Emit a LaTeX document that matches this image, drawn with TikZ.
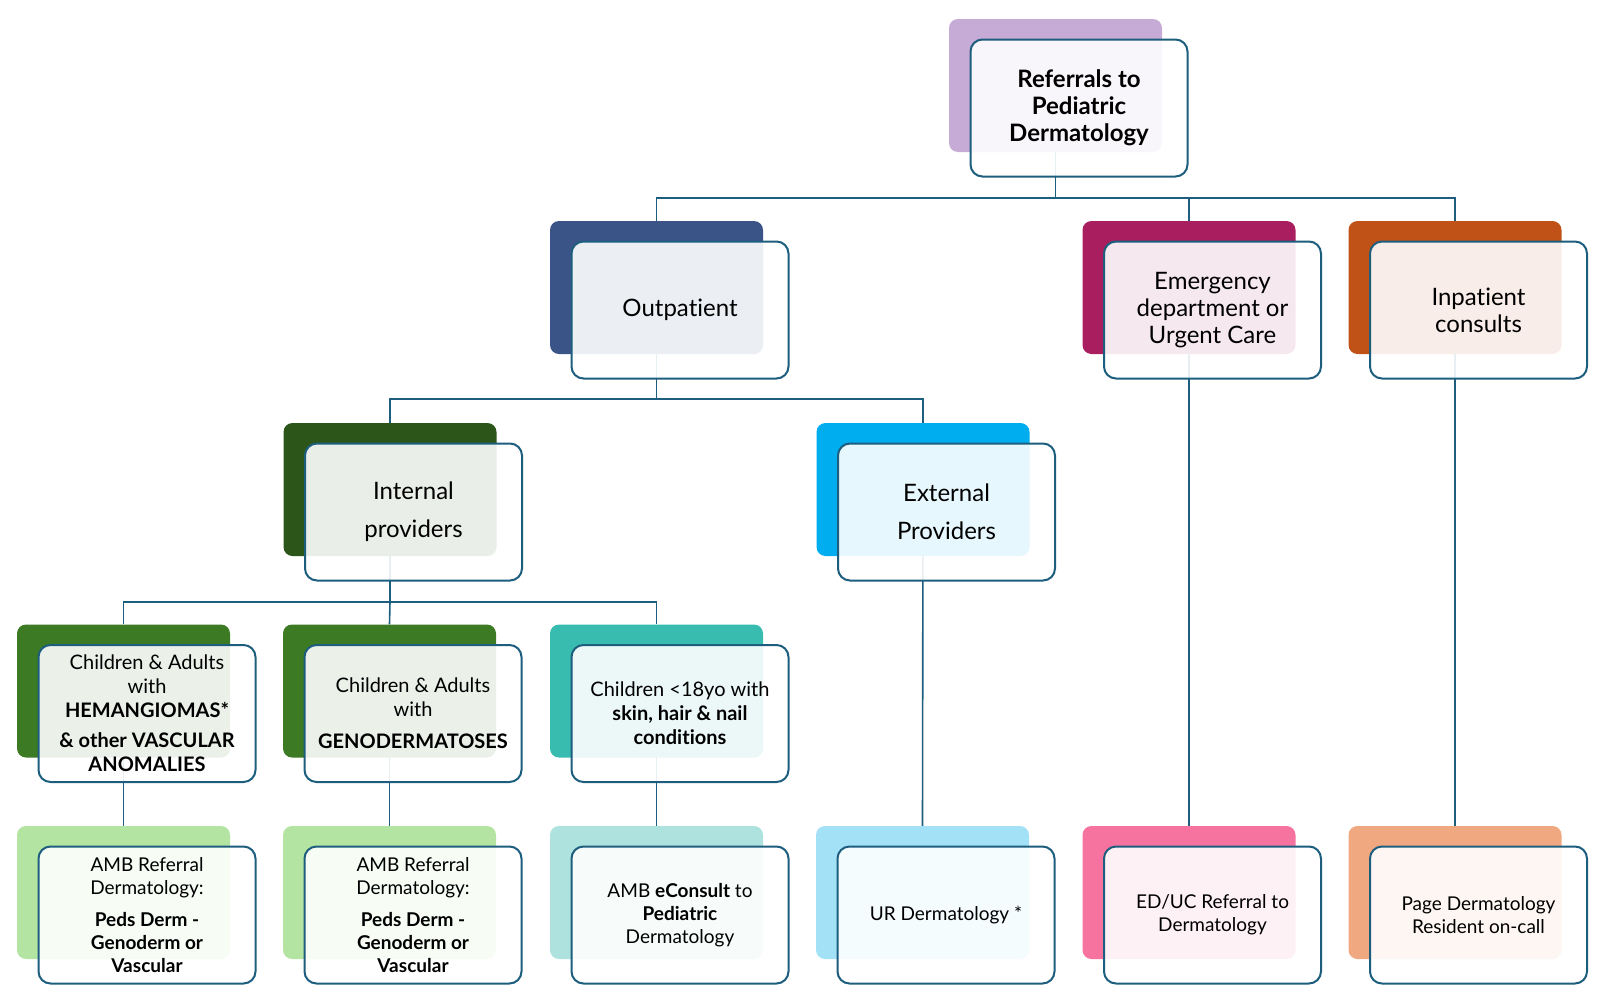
\documentclass[tikz,border=0pt]{standalone}
\usepackage{fontspec}
\setmainfont{Lato}[Ligatures=NoCommon]
\usetikzlibrary{backgrounds}

\definecolor{edgeC}{HTML}{1D5E7E}
\definecolor{refC}{HTML}{C6ABD7}
\definecolor{outC}{HTML}{3B5488}
\definecolor{emgC}{HTML}{A81E5E}
\definecolor{inpC}{HTML}{C05117}
\definecolor{intC}{HTML}{2B5519}
\definecolor{extC}{HTML}{00AEEF}
\definecolor{grnC}{HTML}{3C7A24}
\definecolor{kidC}{HTML}{38BCB0}
\definecolor{ambC}{HTML}{B4E4A2}
\definecolor{econC}{HTML}{AEE2DE}
\definecolor{urC}{HTML}{A3E1F7}
\definecolor{educC}{HTML}{F7739F}
\definecolor{pageC}{HTML}{F0A880}

\begin{document}
\begin{tikzpicture}[x=1pt,y=-1pt,
    back/.style={rounded corners=9pt, minimum width=213pt, minimum height=133pt, inner sep=0pt},
    card/.style={draw=edgeC, line width=2pt, rounded corners=12pt, fill=white, fill opacity=0.9,
                 text opacity=1, minimum width=217pt, minimum height=137pt, inner sep=2pt, align=center},
    link/.style={draw=edgeC, line width=1.6pt},
    big/.style={font=\fontsize{24}{27}\selectfont},
    mid/.style={font=\fontsize{20}{24}\selectfont},
    small/.style={font=\fontsize{19}{23}\selectfont}]

    \useasboundingbox (0,0) rectangle (1614,999);

    % level 1
    \node[back, fill=refC] (refBk) at (1055.5,85.5) {};
    \node[card, big] (ref) at ([shift={(23.5,22.5)}]refBk.center) {\bfseries Referrals to\\\bfseries Pediatric\\\bfseries Dermatology};

    % level 2
    \node[back, fill=outC] (outBk) at (656.5,287.5) {};
    \node[card, big] (out) at ([shift={(23.5,22.5)}]outBk.center) {Outpatient};
    \node[back, fill=emgC] (emgBk) at (1189,287.5) {};
    \node[card, big] (emg) at ([shift={(23.5,22.5)}]emgBk.center) {Emergency\\department or\\Urgent Care};
    \node[back, fill=inpC] (inpBk) at (1455,287.5) {};
    \node[card, big] (inp) at ([shift={(23.5,22.5)}]inpBk.center) {Inpatient\\consults};

    % level 3
    \node[back, fill=intC] (intlBk) at (390,489.5) {};
    \node[card, big] (intl) at ([shift={(23.5,22.5)}]intlBk.center) {Internal\\[11pt]providers};
    \node[back, fill=extC] (extlBk) at (923,489.5) {};
    \node[card, big] (extl) at ([shift={(23.5,22.5)}]extlBk.center) {External\\[11pt]Providers};

    % level 4
    \node[back, fill=grnC] (hemBk) at (123.5,691) {};
    \node[card, mid] (hem) at ([shift={(23.5,22.5)}]hemBk.center)
        {Children \& Adults\\with\\\textbf{HEMANGIOMAS*}\\[6pt]\textbf{\& other VASCULAR}\\\textbf{ANOMALIES}};
    \node[back, fill=grnC] (genBk) at (389.5,691) {};
    \node[card, mid] (gen) at ([shift={(23.5,22.5)}]genBk.center)
        {Children \& Adults\\with\\[8pt]\textbf{GENODERMATOSES}};
    \node[back, fill=kidC] (kidBk) at (656.5,691) {};
    \node[card, mid] (kid) at ([shift={(23.5,22.5)}]kidBk.center)
        {Children <18yo with\\\textbf{skin, hair \& nail}\\\textbf{conditions}};

    % level 5
    \node[back, fill=ambC] (ambhBk) at (123.5,892.5) {};
    \node[card, small] (ambh) at ([shift={(23.5,22.5)}]ambhBk.center)
        {AMB Referral\\Dermatology:\\[9pt]\textbf{Peds Derm -}\\\textbf{Genoderm or}\\\textbf{Vascular}};
    \node[back, fill=ambC] (ambgBk) at (389.5,892.5) {};
    \node[card, small] (ambg) at ([shift={(23.5,22.5)}]ambgBk.center)
        {AMB Referral\\Dermatology:\\[9pt]\textbf{Peds Derm -}\\\textbf{Genoderm or}\\\textbf{Vascular}};
    \node[back, fill=econC] (econBk) at (656.5,892.5) {};
    \node[card, small] (econ) at ([shift={(23.5,22.5)}]econBk.center)
        {AMB \textbf{eConsult} to\\\textbf{Pediatric}\\Dermatology};
    \node[back, fill=urC] (urdBk) at (922.5,892.5) {};
    \node[card, small] (urd) at ([shift={(23.5,22.5)}]urdBk.center) {UR Dermatology *};
    \node[back, fill=educC] (educBk) at (1189,892.5) {};
    \node[card, small] (educ) at ([shift={(23.5,22.5)}]educBk.center) {ED/UC Referral to\\Dermatology};
    \node[back, fill=pageC] (pageBk) at (1455,892.5) {};
    \node[card, small] (page) at ([shift={(23.5,22.5)}]pageBk.center) {Page Dermatology\\Resident on-call};

    % connectors
    \coordinate (bus1) at (0,198);
    \coordinate (bus2) at (0,399);
    \coordinate (bus3) at (0,602);

    \begin{pgfonlayer}{background}
    \draw[link] (refBk.center) -- (refBk |- bus1) -| (outBk.north);
    \draw[link] (refBk |- bus1) -| (emgBk.north);
    \draw[link] (refBk |- bus1) -| (inpBk.north);

    \draw[link] (outBk.center) -- (outBk |- bus2) -| (intlBk.north);
    \draw[link] (outBk |- bus2) -| (extlBk.north);

    \draw[link] (intlBk.center) -- (intlBk |- bus3) -| (hemBk.north);
    \draw[link] (intlBk |- bus3) -| (kidBk.north);
    \draw[link] (intlBk |- bus3) -- (genBk.north);

    \draw[link] (hemBk.center) -- (ambhBk.north);
    \draw[link] (genBk.center) -- (ambgBk.north);
    \draw[link] (kidBk.center) -- (econBk.north);
    \draw[link] (extlBk.center) -- (urdBk.north);
    \draw[link] (emgBk.center) -- (educBk.north);
    \draw[link] (inpBk.center) -- (pageBk.north);
    \end{pgfonlayer}

\end{tikzpicture}
\end{document}
